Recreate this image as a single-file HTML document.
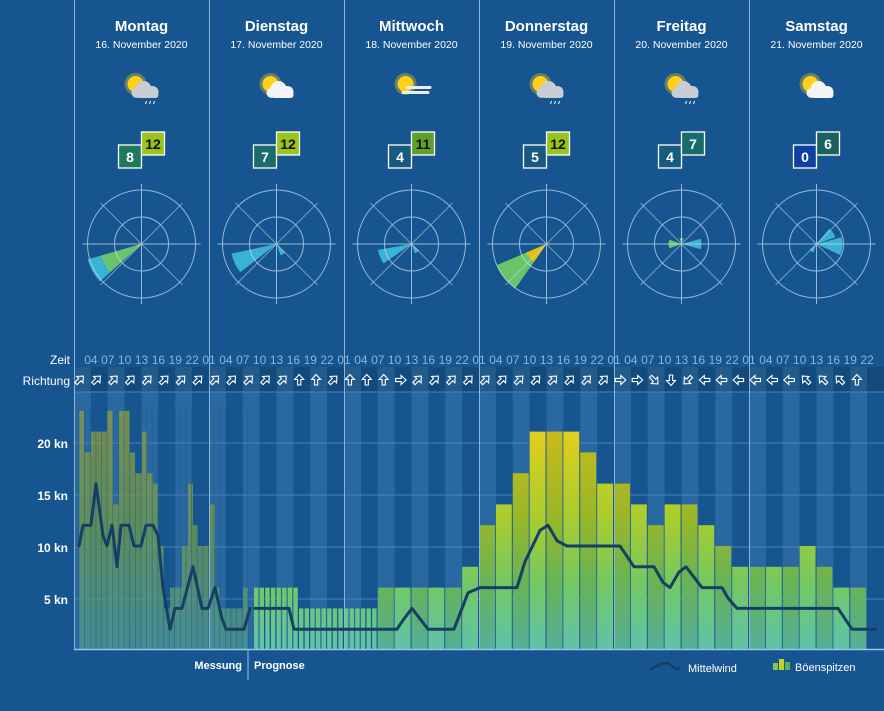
<!DOCTYPE html>
<html><head><meta charset="utf-8"><style>
html,body{margin:0;padding:0;background:#16558f;}
svg{display:block;font-family:"Liberation Sans","DejaVu Sans",sans-serif;}
</style></head><body>
<svg id="s" width="884" height="711" viewBox="0 0 884 711" xmlns="http://www.w3.org/2000/svg">
<defs>
<linearGradient id="bg" gradientUnits="userSpaceOnUse" x1="0" y1="430" x2="0" y2="650">
<stop offset="0" stop-color="#e2cf1c"/><stop offset="0.4" stop-color="#a9cc2e"/><stop offset="0.7" stop-color="#74c862"/><stop offset="1" stop-color="#5ec3aa"/>
</linearGradient>
<linearGradient id="mg" gradientUnits="userSpaceOnUse" x1="0" y1="410" x2="0" y2="650">
<stop offset="0" stop-color="#8f9a40"/><stop offset="0.5" stop-color="#6f9a4e"/><stop offset="1" stop-color="#4c9a96"/>
</linearGradient>
</defs>
<rect width="884" height="711" fill="#16558f"/>
<g id="stripes"></g>
<g id="grid" stroke="#4a82b8" stroke-width="1">
<line x1="74" y1="392" x2="884" y2="392"/><line x1="74" y1="443" x2="884" y2="443"/><line x1="74" y1="495" x2="884" y2="495"/><line x1="74" y1="547" x2="884" y2="547"/><line x1="74" y1="599" x2="884" y2="599"/>
</g>
<g id="bars"></g>
<g id="days" stroke="#8fb4da" stroke-width="1"></g>
<line x1="74" y1="649.5" x2="884" y2="649.5" stroke="#9cc3e8" stroke-width="1.5"/>
<line x1="248" y1="650" x2="248" y2="680" stroke="#9cc3e8" stroke-width="1"/>
<path id="mw" fill="none" stroke="#173f64" stroke-width="3" stroke-linejoin="round" stroke-linecap="round"/>
<path id="mw2" fill="none" stroke="#173f64" stroke-width="3" stroke-linejoin="round" stroke-linecap="round"/>
<g id="arrows" fill="none" stroke="#fff" stroke-width="1.1"></g>
<g id="roses"></g>
<g id="icons"></g>

<g fill="#fff" font-weight="bold" text-anchor="middle">
<text x="141.5" y="31" font-size="15">Montag</text>
<text x="276.5" y="31" font-size="15">Dienstag</text>
<text x="411.5" y="31" font-size="15">Mittwoch</text>
<text x="546.5" y="31" font-size="15">Donnerstag</text>
<text x="681.5" y="31" font-size="15">Freitag</text>
<text x="816.5" y="31" font-size="15">Samstag</text>
<g font-size="10.5" font-weight="normal">
<text x="141.5" y="48">16. November 2020</text>
<text x="276.5" y="48">17. November 2020</text>
<text x="411.5" y="48">18. November 2020</text>
<text x="546.5" y="48">19. November 2020</text>
<text x="681.5" y="48">20. November 2020</text>
<text x="816.5" y="48">21. November 2020</text>
</g>
</g>

<g id="boxes"></g>
<g font-size="14" font-weight="bold" text-anchor="middle">
<text x="130" y="162" fill="#fff">8</text><text x="153" y="149" fill="#111">12</text>
<text x="265" y="162" fill="#fff">7</text><text x="288" y="149" fill="#111">12</text>
<text x="400" y="162" fill="#fff">4</text><text x="423" y="149" fill="#111">11</text>
<text x="535" y="162" fill="#fff">5</text><text x="558" y="149" fill="#111">12</text>
<text x="670" y="162" fill="#fff">4</text><text x="693" y="149" fill="#fff">7</text>
<text x="805" y="162" fill="#fff">0</text><text x="828" y="149" fill="#fff">6</text>
</g>

<g fill="#fff" font-size="12" text-anchor="end">
<text x="70" y="364">Zeit</text>
<text x="70" y="385">Richtung</text>
</g>
<g fill="#fff" font-size="12" font-weight="bold" text-anchor="end">
<text x="68" y="448">20 kn</text>
<text x="68" y="500">15 kn</text>
<text x="68" y="552">10 kn</text>
<text x="68" y="604">5 kn</text>
</g>
<g fill="#8fb3d6" font-size="12" text-anchor="middle">
<text x="90.9" y="364">04</text><text x="107.8" y="364">07</text><text x="124.6" y="364">10</text><text x="141.5" y="364">13</text><text x="158.4" y="364">16</text><text x="175.3" y="364">19</text><text x="192.1" y="364">22</text>
<text x="209" y="364">01</text><text x="225.9" y="364">04</text><text x="242.8" y="364">07</text><text x="259.6" y="364">10</text><text x="276.5" y="364">13</text><text x="293.4" y="364">16</text><text x="310.3" y="364">19</text><text x="327.1" y="364">22</text>
<text x="344" y="364">01</text><text x="360.9" y="364">04</text><text x="377.8" y="364">07</text><text x="394.6" y="364">10</text><text x="411.5" y="364">13</text><text x="428.4" y="364">16</text><text x="445.3" y="364">19</text><text x="462.1" y="364">22</text>
<text x="479" y="364">01</text><text x="495.9" y="364">04</text><text x="512.8" y="364">07</text><text x="529.6" y="364">10</text><text x="546.5" y="364">13</text><text x="563.4" y="364">16</text><text x="580.3" y="364">19</text><text x="597.1" y="364">22</text>
<text x="614" y="364">01</text><text x="630.9" y="364">04</text><text x="647.8" y="364">07</text><text x="664.6" y="364">10</text><text x="681.5" y="364">13</text><text x="698.4" y="364">16</text><text x="715.3" y="364">19</text><text x="732.1" y="364">22</text>
<text x="749" y="364">01</text><text x="765.9" y="364">04</text><text x="782.8" y="364">07</text><text x="799.6" y="364">10</text><text x="816.5" y="364">13</text><text x="833.4" y="364">16</text><text x="850.3" y="364">19</text><text x="867.1" y="364">22</text>
</g>

<g fill="#fff" font-size="11">
<text x="242" y="669" text-anchor="end" font-weight="bold">Messung</text>
<text x="254" y="669" font-weight="bold">Prognose</text>
<text x="688" y="672">Mittelwind</text>
<text x="795" y="671">Böenspitzen</text>
</g>
<path d="M650 670 L660 664 L668 663 L676 669 L680 668" fill="none" stroke="#173f64" stroke-width="2.5"/>
<rect x="773" y="663" width="5" height="7" fill="#7cc85a"/><rect x="779" y="659" width="5" height="11" fill="#c8d020"/><rect x="785" y="662" width="5" height="8" fill="#5ab05a"/>
</svg>
<script>
var NS="http://www.w3.org/2000/svg";
function el(p,t,a){var e=document.createElementNS(NS,t);for(var k in a)e.setAttribute(k,a[k]);p.appendChild(e);return e;}
var W=16.875,Y=function(v){return 650-10.4*v;};
var st=document.getElementById('stripes');
for(var k=0;k<48;k+=2){el(st,'rect',{x:74+k*W,y:367,width:W,height:283,fill:'#2a68a1'});}
el(st,'rect',{x:74,y:367,width:810,height:25,fill:'#000',opacity:0.12});
var dg=document.getElementById('days');
for(var d=0;d<6;d++){el(dg,'line',{x1:74.5+135*d,y1:0,x2:74.5+135*d,y2:650});}
var bg=document.getElementById('bars');
// measurement
var m=[[79,84,23],[84,91,19],[91,107,21],[107,113,23],[113,119,14],[119,130,23],[130,135,19],[135,142,17],[142,147,21],[147,153,17],[153,158,16],[158,164,10],[164,170,4],[170,182,6],[182,188,10],[188,193,16],[193,198,12],[198,204,10],[204,209,10],[209,215,14],[215,220,6],[220,243,4],[243,248,6]];
m.forEach(function(b){el(bg,'rect',{x:b[0],y:Y(b[2]),width:b[1]-b[0],height:650-Y(b[2]),fill:'url(#mg)',opacity:0.78});});
for(var x=79;x<248;x+=5.63){el(bg,'line',{x1:x,y1:410,x2:x,y2:650,stroke:'#1d5a86',"stroke-width":0.8,opacity:0.6});}
// forecast hourly
for(var x=254;x<377.8;x+=5.625){var v=x<296?6:4;el(bg,'rect',{x:x,y:Y(v),width:4.4,height:650-Y(v),fill:'url(#bg)'});}
var f=[6,6,6,6,6,8,12,14,17,21,21,21,19,16,16,14,12,14,14,12,10,8,8,8,8,10,8,6,6];
for(var i=0;i<f.length;i++){var x0=377.8+i*W;var r=el(bg,'rect',{x:x0,y:Y(f[i]),width:W-1,height:650-Y(f[i]),fill:'url(#bg)'});
 if(i%2==0)el(bg,'rect',{x:x0,y:Y(f[i]),width:W-1,height:650-Y(f[i]),fill:'#000',opacity:0.1});}
// line
var p1=[[79,10],[83,12],[91,12],[96,16],[103,11],[107,10],[112,12],[117,8],[121,12],[129,12],[134,10],[141,10],[146,12],[153,12],[158,11],[163,6],[170,2],[175,4],[182,4],[193,8],[202,4],[208,4],[215,6],[222,3],[226,2],[244,2],[250,4]];
var p2=[[255,4],[289,4],[294,2],[397,2],[404,3],[412,4],[420,3],[428,2],[454,2],[462,4],[468,5.5],[480,6],[517,6],[525,8.5],[540,11.5],[548,12],[557,10.5],[567,10],[620,10],[627,9],[634,8],[654,8],[663,6.5],[670,6],[679,7.5],[686,8],[694,7],[702,6],[722,6],[728,5],[737,4],[838,4],[845,3],[852,2],[876,2]];
function pd(a){return a.map(function(q,i){return (i?'L':'M')+q[0]+' '+Y(q[1]).toFixed(1);}).join(' ');}
document.getElementById('mw').setAttribute('d',pd(p1));
document.getElementById('mw2').setAttribute('d',pd(p2));
// arrows: angle (deg, direction pointing)
var dirs=[45,45,45,45,45,45,45,45, 45,45,45,45,45,0,0,45, 0,0,0,90,45,45,45,45, 45,45,45,45,45,45,45,45, 90,90,135,180,225,270,270,270, 270,270,270,315,315,315,0];
var ag=document.getElementById('arrows');
for(var i=0;i<dirs.length;i++){var cx=79.5+i*16.9,cy=380;
 var g=el(ag,'g',{transform:'translate('+cx+','+cy+') rotate('+dirs[i]+')'});
 el(g,'path',{d:'M0 -5.5 L4.5 -0.5 L1.6 -0.5 L1.6 5 L-1.6 5 L-1.6 -0.5 L-4.5 -0.5 Z'});}
// boxes
var bx=document.getElementById('boxes');
var cols=[['#1e7a5c','#9ac31c'],['#1a6b6b','#9ac31c'],['#175a80','#5ea02a'],['#175a80','#9ac31c'],['#175a80','#1a6b6b'],['#1040a0','#1a6262']];
for(var d=0;d<6;d++){var c=141.5+135*d;
 el(bx,'rect',{x:c-23,y:145,width:23,height:23,fill:cols[d][0],stroke:'#fff','stroke-width':1.3});
 el(bx,'rect',{x:c,y:132,width:23,height:23,fill:cols[d][1],stroke:'#fff','stroke-width':1.3});}
// roses
var rg=document.getElementById('roses');
function sec(cx,cy,a0,a1,r,col){var t=function(a){a=(a-90)*Math.PI/180;return (cx+r*Math.cos(a)).toFixed(1)+' '+(cy+r*Math.sin(a)).toFixed(1);};
 el(rg,'path',{d:'M'+cx+' '+cy+' L'+t(a0)+' A'+r+' '+r+' 0 0 1 '+t(a1)+' Z',fill:col});}
var S={0:[[228,254,56,'#3ab2d2'],[228,254,42,'#6ac46a'],[225,250,5,'#e0c010']],1:[[232,258,46,'#3ab2d2'],[135,160,12,'#3ab2d2']],2:[[235,260,34,'#3ab2d2'],[130,160,10,'#3ab2d2']],
3:[[215,247,54,'#6ac46a'],[215,247,22,'#e0c010']],4:[[250,290,13,'#6ac46a'],[340,20,6,'#6ac46a'],[75,105,20,'#3ab2d2']],5:[[40,70,20,'#3ab2d2'],[75,115,26,'#3ab2d2'],[200,230,9,'#3ab2d2']]};
for(var d=0;d<6;d++){var cx=141.5+135*d,cy=244;
 S[d].forEach(function(s){sec(cx,cy,s[0],s[1],s[2],s[3]);});
 var g=el(rg,'g',{stroke:'#c9dcef','stroke-width':1,fill:'none',opacity:0.75});
 el(g,'circle',{cx:cx,cy:cy,r:54});el(g,'circle',{cx:cx,cy:cy,r:27});
 el(g,'line',{x1:cx-59,y1:cy,x2:cx+59,y2:cy});el(g,'line',{x1:cx,y1:cy-60,x2:cx,y2:cy+60});
 el(g,'line',{x1:cx-41,y1:cy-41,x2:cx+41,y2:cy+41,'stroke-width':0.7});el(g,'line',{x1:cx-41,y1:cy+41,x2:cx+41,y2:cy-41,'stroke-width':0.7});}
// icons
var ig=document.getElementById('icons');
var rain=[1,0,0,1,1,0];
for(var d=0;d<6;d++){var cx=141.5+135*d,cy=88;
 el(ig,'circle',{cx:cx-6,cy:cy-4,r:11,fill:'#ffd520',opacity:0.35});
 el(ig,'circle',{cx:cx-6,cy:cy-4,r:8,fill:'#ffcf1a'});
 var cc=rain[d]?'#c9ccd2':'#f2f4f6';
 if(d==2){el(ig,'rect',{x:cx-6,y:cy-2,width:26,height:3,fill:'#e8eef4',rx:1.5});el(ig,'rect',{x:cx-10,y:cy+3,width:28,height:3,fill:'#e8eef4',rx:1.5});continue;}
 el(ig,'circle',{cx:cx+2,cy:cy+1,r:8,fill:cc});el(ig,'circle',{cx:cx+11,cy:cy+4,r:6,fill:cc});el(ig,'circle',{cx:cx-5,cy:cy+5,r:5,fill:cc});
 el(ig,'rect',{x:cx-5,y:cy+4,width:22,height:6,fill:cc,rx:3});
 if(rain[d]){for(var j=0;j<3;j++)el(ig,'line',{x1:cx+5+j*4,y1:cy+13,x2:cx+4+j*4,y2:cy+16,stroke:'#fff','stroke-width':1});}}
</script>
</body></html>
